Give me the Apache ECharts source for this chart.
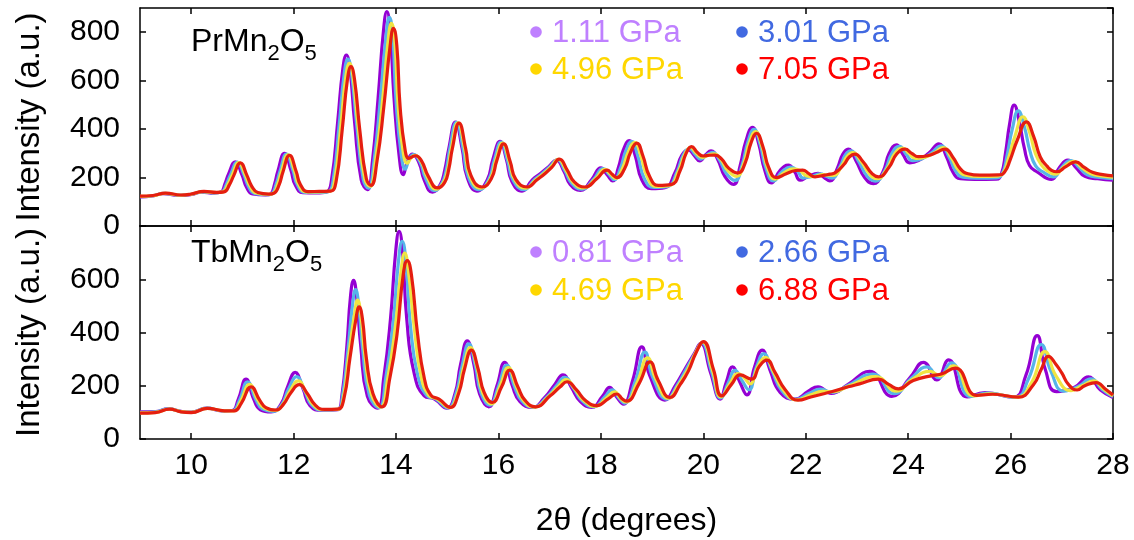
<!DOCTYPE html>
<html><head><meta charset="utf-8">
<script src="https://cdn.jsdelivr.net/npm/echarts@6/dist/echarts.min.js"></script>
<style>html,body{margin:0;padding:0;background:#fff}#c{width:1134px;height:540px}</style>
</head><body><div id="c"></div>
<script>
// ---- tick labels ----
const xTicks = [10,12,14,16,18,20,22,24,26,28];
// ---- legend labels ----
const prLegend = ['1.11 GPa','3.01 GPa','4.96 GPa','7.05 GPa'];
const tbLegend = ['0.81 GPa','2.66 GPa','4.69 GPa','6.88 GPa'];
const legendColors = ['#bf80ff','#4169e1','#ffd700','#ff0000'];
const lineColors = ['#9400d3','#56b4e9','#f0e442','#e51e10'];

// ---- PrMn2O5 (top panel) ----
const prP = [[9.0,120],[9.25,124],[9.45,134],[9.75,126],[10.0,130],[10.2,140],[10.45,136],[10.58,140],[10.66,175],[10.73,215],[10.86,265],[10.99,212],[11.08,160],[11.2,132],[11.45,128],[11.55,132],[11.63,175],[11.69,225],[11.82,300],[11.95,228],[12.03,170],[12.18,138],[12.45,137],[12.64,140],[12.74,190],[12.86,430],[12.96,647],[13.03,706],[13.10,647],[13.19,430],[13.32,190],[13.44,150],[13.54,270],[13.65,530],[13.755,807],[13.82,885],[13.885,807],[13.96,530],[14.06,290],[14.14,212],[14.22,265],[14.32,297],[14.45,260],[14.55,190],[14.71,140],[14.86,170],[14.95,230],[15.03,320],[15.16,429],[15.29,320],[15.39,200],[15.58,144],[15.78,190],[15.89,275],[16.03,349],[16.16,270],[16.26,185],[16.46,144],[16.66,190],[16.82,217],[16.98,245],[17.13,272],[17.28,225],[17.4,172],[17.6,147],[17.82,192],[18.0,240],[18.12,212],[18.23,186],[18.34,240],[18.44,315],[18.55,353],[18.67,290],[18.8,190],[18.99,154],[19.25,158],[19.45,222],[19.58,292],[19.71,314],[19.82,292],[19.93,269],[20.05,295],[20.15,310],[20.28,275],[20.42,205],[20.59,172],[20.72,250],[20.83,350],[20.96,407],[21.08,340],[21.2,230],[21.33,178],[21.5,230],[21.66,251],[21.78,225],[21.89,189],[22.05,205],[22.24,217],[22.36,200],[22.47,186],[22.62,240],[22.72,295],[22.83,317],[22.98,270],[23.15,200],[23.32,175],[23.5,220],[23.63,300],[23.77,335],[23.9,295],[24.03,261],[24.2,270],[24.4,300],[24.6,339],[24.75,285],[24.88,220],[25.02,195],[25.3,192],[25.72,193],[25.82,215],[25.9,300],[25.98,420],[26.07,499],[26.17,430],[26.27,320],[26.37,250],[26.52,223],[26.8,192],[26.95,240],[27.12,272],[27.28,240],[27.45,205],[27.7,195],[28.0,189]];
const prB = [[9.0,121],[9.25,125],[9.47,135],[9.77,127],[10.0,131],[10.22,141],[10.47,137],[10.6,140],[10.69,174],[10.77,213],[10.9,264],[11.03,211],[11.12,162],[11.24,134],[11.47,129],[11.57,133],[11.66,174],[11.73,224],[11.86,297],[11.99,227],[12.07,171],[12.22,139],[12.47,139],[12.67,141],[12.77,188],[12.89,420],[12.99,632],[13.06,689],[13.13,632],[13.23,420],[13.36,192],[13.46,156],[13.57,270],[13.69,516],[13.805,785],[13.87,861],[13.935,785],[14.0,516],[14.1,297],[14.18,235],[14.25,272],[14.34,295],[14.47,263],[14.58,195],[14.75,146],[14.89,174],[14.98,232],[15.05,320],[15.18,428],[15.31,319],[15.41,204],[15.62,150],[15.81,192],[15.92,274],[16.05,346],[16.18,268],[16.29,187],[16.5,150],[16.7,191],[16.85,216],[17.0,244],[17.15,273],[17.3,227],[17.43,176],[17.63,152],[17.86,193],[18.04,237],[18.16,213],[18.26,191],[18.38,238],[18.49,312],[18.6,349],[18.72,290],[18.85,195],[19.04,159],[19.3,163],[19.49,225],[19.61,294],[19.73,319],[19.84,296],[19.95,276],[20.07,294],[20.18,304],[20.31,275],[20.45,217],[20.62,188],[20.76,254],[20.87,347],[20.99,399],[21.11,337],[21.23,234],[21.37,186],[21.54,225],[21.71,243],[21.84,227],[21.95,198],[22.1,204],[22.29,215],[22.4,205],[22.51,198],[22.67,245],[22.77,292],[22.88,310],[23.03,268],[23.2,205],[23.36,185],[23.54,227],[23.68,299],[23.83,329],[23.96,297],[24.09,270],[24.26,277],[24.45,301],[24.64,331],[24.8,284],[24.93,226],[25.07,202],[25.34,198],[25.73,199],[25.84,217],[25.93,290],[26.03,397],[26.15,475],[26.27,409],[26.38,308],[26.49,248],[26.62,225],[26.84,203],[27.0,242],[27.17,270],[27.34,241],[27.5,211],[27.74,201],[28.0,195]];
const prY = [[9.0,122],[9.25,125],[9.49,135],[9.79,127],[10.0,131],[10.24,142],[10.49,138],[10.62,141],[10.72,173],[10.8,210],[10.93,262],[11.06,209],[11.15,164],[11.27,136],[11.5,131],[11.6,135],[11.69,173],[11.76,223],[11.89,294],[12.02,226],[12.1,171],[12.25,141],[12.49,141],[12.7,143],[12.8,187],[12.92,409],[13.02,617],[13.09,672],[13.16,617],[13.26,409],[13.39,194],[13.49,163],[13.6,270],[13.73,502],[13.845,764],[13.91,837],[13.975,764],[14.04,502],[14.14,304],[14.22,259],[14.28,278],[14.36,292],[14.49,266],[14.61,201],[14.78,152],[14.92,177],[15.01,234],[15.08,320],[15.21,426],[15.34,319],[15.44,207],[15.65,156],[15.84,194],[15.95,273],[16.08,342],[16.21,267],[16.32,190],[16.53,156],[16.73,191],[16.88,216],[17.02,243],[17.17,275],[17.32,230],[17.46,179],[17.66,157],[17.89,194],[18.08,234],[18.19,213],[18.29,196],[18.42,237],[18.54,308],[18.66,345],[18.78,290],[18.91,201],[19.08,164],[19.34,168],[19.52,228],[19.64,296],[19.75,324],[19.87,299],[19.98,283],[20.1,293],[20.21,298],[20.34,276],[20.48,228],[20.65,205],[20.79,258],[20.9,344],[21.02,390],[21.14,333],[21.26,237],[21.4,193],[21.58,220],[21.76,236],[21.89,229],[22.01,208],[22.14,204],[22.33,212],[22.44,210],[22.54,209],[22.71,251],[22.81,288],[22.92,303],[23.08,267],[23.26,211],[23.39,195],[23.58,234],[23.74,299],[23.89,322],[24.02,299],[24.15,279],[24.33,284],[24.51,302],[24.68,324],[24.84,283],[24.98,231],[25.13,210],[25.37,205],[25.75,206],[25.86,220],[25.96,280],[26.09,374],[26.24,451],[26.37,388],[26.49,296],[26.62,247],[26.72,228],[26.87,214],[27.04,244],[27.23,267],[27.39,241],[27.56,217],[27.77,207],[28.0,202]];
const prR = [[9.0,123],[9.25,126],[9.5,136],[9.8,128],[10.0,132],[10.25,143],[10.5,139],[10.64,141],[10.75,172],[10.83,208],[10.96,261],[11.09,208],[11.18,165],[11.3,138],[11.52,132],[11.62,136],[11.72,172],[11.79,222],[11.92,292],[12.05,225],[12.13,172],[12.28,142],[12.5,143],[12.72,144],[12.83,185],[12.95,400],[13.05,604],[13.12,658],[13.19,604],[13.29,400],[13.42,195],[13.51,168],[13.63,270],[13.76,490],[13.885,745],[13.95,816],[14.015,745],[14.08,490],[14.18,310],[14.25,279],[14.3,284],[14.38,290],[14.5,268],[14.63,205],[14.81,157],[14.95,180],[15.03,235],[15.1,320],[15.23,425],[15.36,318],[15.46,210],[15.68,161],[15.86,195],[15.97,272],[16.1,339],[16.23,265],[16.34,192],[16.56,161],[16.76,192],[16.9,215],[17.04,242],[17.19,276],[17.34,232],[17.48,182],[17.69,161],[17.92,195],[18.12,231],[18.22,214],[18.31,200],[18.46,235],[18.58,305],[18.7,342],[18.82,290],[18.95,205],[19.12,168],[19.38,172],[19.55,230],[19.66,298],[19.77,328],[19.89,302],[20.0,289],[20.12,292],[20.23,293],[20.36,276],[20.5,238],[20.68,219],[20.82,262],[20.93,342],[21.04,383],[21.16,330],[21.28,240],[21.43,200],[21.62,216],[21.8,229],[21.94,231],[22.06,216],[22.18,203],[22.37,210],[22.48,214],[22.57,219],[22.75,255],[22.85,285],[22.96,297],[23.12,265],[23.3,215],[23.42,203],[23.62,240],[23.78,298],[23.94,317],[24.07,300],[24.2,286],[24.38,290],[24.55,303],[24.72,317],[24.88,282],[25.02,236],[25.17,216],[25.4,210],[25.76,211],[25.88,222],[25.99,272],[26.13,354],[26.31,430],[26.45,370],[26.58,285],[26.72,245],[26.8,230],[26.9,224],[27.08,245],[27.27,265],[27.44,242],[27.6,222],[27.8,212],[28.0,207]];

// ---- TbMn2O5 (bottom panel) ----
const tbP = [[9.0,102],[9.3,103],[9.55,113],[9.8,104],[10.0,101],[10.3,116],[10.6,106],[10.8,107],[10.92,150],[11.07,225],[11.22,150],[11.35,110],[11.56,102],[11.75,130],[11.88,195],[12.03,250],[12.18,190],[12.32,125],[12.55,108],[12.86,110],[12.94,160],[13.04,350],[13.11,535],[13.17,596],[13.23,535],[13.31,350],[13.44,160],[13.64,116],[13.76,230],[13.89,448],[13.995,709],[14.06,780],[14.125,709],[14.21,448],[14.35,250],[14.55,162],[14.75,150],[14.99,116],[15.15,170],[15.26,280],[15.39,369],[15.52,280],[15.63,170],[15.81,121],[15.97,200],[16.12,288],[16.27,200],[16.42,140],[16.66,119],[16.9,155],[17.1,205],[17.26,241],[17.42,195],[17.6,140],[17.82,119],[18.03,160],[18.17,194],[18.3,160],[18.44,131],[18.62,220],[18.8,346],[18.95,240],[19.25,146],[19.45,200],[19.64,262],[19.82,320],[19.95,359],[20.14,250],[20.33,150],[20.45,215],[20.57,271],[20.71,215],[20.85,166],[21.0,270],[21.15,334],[21.3,260],[21.5,175],[21.79,150],[22.05,180],[22.24,196],[22.5,171],[22.82,204],[23.25,254],[23.68,160],[24.04,232],[24.3,288],[24.56,222],[24.79,297],[25.15,158],[25.5,174],[26.05,157],[26.3,240],[26.52,388],[26.68,260],[26.9,178],[27.25,195],[27.52,233],[27.75,185],[28.0,156]];
const tbB = [[9.0,100],[9.3,102],[9.56,113],[9.8,103],[10.0,100],[10.31,116],[10.62,106],[10.81,107],[10.94,145],[11.1,215],[11.26,148],[11.39,113],[11.6,104],[11.77,130],[11.9,188],[12.06,234],[12.21,183],[12.36,126],[12.57,109],[12.86,111],[12.95,157],[13.06,334],[13.15,504],[13.21,561],[13.27,504],[13.35,334],[13.48,164],[13.67,118],[13.8,230],[13.94,429],[14.05,673],[14.12,742],[14.19,673],[14.28,429],[14.42,243],[14.6,163],[14.78,150],[15.01,117],[15.17,170],[15.29,275],[15.42,357],[15.55,275],[15.66,172],[15.83,127],[16.0,198],[16.16,278],[16.31,198],[16.46,142],[16.68,120],[16.94,157],[17.14,202],[17.29,232],[17.46,192],[17.64,142],[17.86,121],[18.07,157],[18.22,185],[18.34,157],[18.46,135],[18.67,217],[18.86,326],[19.01,233],[19.29,150],[19.49,202],[19.66,260],[19.84,322],[19.97,361],[20.16,254],[20.34,154],[20.49,212],[20.62,258],[20.76,218],[20.89,185],[21.04,272],[21.18,321],[21.34,257],[21.54,179],[21.81,149],[22.07,172],[22.29,187],[22.52,175],[22.82,201],[23.31,244],[23.73,170],[24.06,228],[24.37,271],[24.59,230],[24.84,286],[25.22,160],[25.55,172],[26.09,157],[26.35,226],[26.6,355],[26.79,253],[27.04,180],[27.32,197],[27.57,226],[27.79,186],[28.0,159]];
const tbY = [[9.0,98],[9.3,100],[9.57,112],[9.8,103],[10.0,100],[10.31,115],[10.64,106],[10.83,106],[10.96,140],[11.14,205],[11.3,147],[11.43,116],[11.63,107],[11.79,130],[11.93,181],[12.09,218],[12.24,176],[12.39,127],[12.59,110],[12.86,111],[12.97,153],[13.08,318],[13.19,470],[13.25,522],[13.31,470],[13.39,318],[13.52,167],[13.7,120],[13.84,230],[13.98,411],[14.1,634],[14.17,698],[14.24,634],[14.36,411],[14.49,236],[14.64,164],[14.81,150],[15.04,118],[15.2,170],[15.32,270],[15.45,343],[15.58,270],[15.69,174],[15.86,132],[16.03,197],[16.19,268],[16.35,197],[16.49,144],[16.7,120],[16.98,160],[17.17,198],[17.32,223],[17.49,188],[17.67,144],[17.89,123],[18.11,154],[18.27,177],[18.38,153],[18.48,139],[18.71,213],[18.91,305],[19.07,226],[19.32,153],[19.52,204],[19.69,258],[19.85,324],[19.99,364],[20.18,257],[20.35,158],[20.52,208],[20.68,246],[20.8,230],[20.91,207],[21.07,274],[21.21,307],[21.37,253],[21.57,182],[21.83,147],[22.09,165],[22.33,179],[22.55,178],[22.83,198],[23.37,234],[23.77,180],[24.08,224],[24.43,254],[24.62,237],[24.88,275],[25.28,162],[25.6,170],[26.12,157],[26.41,212],[26.67,328],[26.89,236],[27.18,182],[27.39,199],[27.62,218],[27.82,187],[28.0,162]];
const tbR = [[9.0,97],[9.3,99],[9.58,112],[9.8,102],[10.0,99],[10.32,115],[10.65,106],[10.84,106],[10.98,135],[11.17,196],[11.34,145],[11.46,118],[11.66,109],[11.8,130],[11.95,175],[12.11,204],[12.27,170],[12.42,128],[12.6,111],[12.86,112],[12.98,150],[13.1,304],[13.215,449],[13.28,496],[13.345,449],[13.42,304],[13.55,170],[13.73,121],[13.88,230],[14.02,395],[14.14,617],[14.22,670],[14.30,617],[14.42,395],[14.55,230],[14.68,165],[14.84,150],[15.06,119],[15.22,170],[15.34,265],[15.47,334],[15.6,265],[15.72,175],[15.88,137],[16.06,195],[16.22,259],[16.38,195],[16.52,145],[16.72,121],[17.01,162],[17.2,195],[17.34,215],[17.52,185],[17.7,145],[17.92,125],[18.15,152],[18.31,169],[18.42,150],[18.5,142],[18.75,210],[18.96,290],[19.12,220],[19.35,156],[19.55,205],[19.71,256],[19.86,325],[20.0,366],[20.2,260],[20.36,162],[20.55,205],[20.72,241],[20.94,225],[21.1,275],[21.24,296],[21.4,250],[21.6,185],[21.85,146],[22.1,158],[22.37,171],[22.57,181],[22.83,196],[23.05,207],[23.42,225],[23.62,205],[23.81,188],[24.1,220],[24.49,239],[24.65,244],[24.92,266],[25.34,164],[25.65,168],[26.15,157],[26.45,205],[26.6,262],[26.74,310],[26.88,282],[27.0,248],[27.13,205],[27.3,184],[27.45,200],[27.67,212],[27.85,188],[28.0,165]];

const FONT = '"Liberation Sans", Arial, Helvetica, sans-serif';
const chart = echarts.init(document.getElementById('c'), null, {renderer:'canvas'});

const axisLineStyle = {color:'#000', width:1.5};
function xAx(grid, pos, labels, name){
  return {type:'value', gridIndex:grid, position:pos, min:9, max:28,
    axisLine:{show:true, onZero:false, lineStyle:axisLineStyle},
    axisTick:{show:true, inside:true, length:6, customValues:xTicks, lineStyle:axisLineStyle},
    axisLabel:{show:labels, customValues:xTicks, margin:12, color:'#000', fontSize:30, fontFamily:FONT},
    splitLine:{show:false},
    name:name||'', nameLocation:'middle', nameGap:66,
    nameTextStyle:{color:'#000', fontSize:32, fontFamily:FONT}};
}
function yAx(grid, pos, max, labels){
  return {type:'value', gridIndex:grid, position:pos, min:0, max:max, interval:200,
    axisLine:{show:true, onZero:false, lineStyle:axisLineStyle},
    axisTick:{show:true, inside:true, length:6, lineStyle:axisLineStyle},
    axisLabel:{show:labels, margin:20, color:'#000', fontSize:30, fontFamily:FONT, showMaxLabel:false},
    splitLine:{show:false},
    name: labels ? 'Intensity (a.u.)' : '', nameLocation:'middle', nameRotate:90, nameGap:94,
    nameTextStyle:{color:'#000', fontSize:33, fontFamily:FONT}};
}
function ser(data, xi, yi, ci){
  return {type:'line', data:data, xAxisIndex:xi, yAxisIndex:yi, showSymbol:false, symbol:'none',
    smooth:0.5, lineStyle:{color:lineColors[ci], width:3.2}, silent:true, z:2+ci};
}
function legendGraphics(labels, y1, y2){
  const pos = [[536,y1],[742,y1],[536,y2],[742,y2]];
  const g = [];
  labels.forEach((t,i)=>{
    g.push({type:'circle', shape:{cx:pos[i][0], cy:pos[i][1], r:5.8}, style:{fill:legendColors[i]}});
    g.push({type:'text', style:{text:t, x:pos[i][0]+16, y:pos[i][1]+1, fill:legendColors[i],
      font:'31px '+FONT, align:'left', verticalAlign:'middle'}});
  });
  return g;
}
const subRich = {s:{fontSize:22, fontFamily:FONT, height:16, verticalAlign:'bottom', fill:'#000'}};
const option = {
  animation:false,
  backgroundColor:'#fff',
  grid:[{left:140, top:8, width:973, height:218}, {left:140, top:226, width:973, height:213}],
  xAxis:[xAx(0,'bottom',false), xAx(0,'top',false), xAx(1,'bottom',true,'2θ (degrees)'), xAx(1,'top',false)],
  yAxis:[yAx(0,'left',900,true), yAx(0,'right',900,false), yAx(1,'left',800,true), yAx(1,'right',800,false)],
  series:[
    ser(prP,0,0,0), ser(prB,0,0,1), ser(prY,0,0,2), ser(prR,0,0,3),
    ser(tbP,2,2,0), ser(tbB,2,2,1), ser(tbY,2,2,2), ser(tbR,2,2,3)
  ],
  graphic:[
    {type:'text', style:{text:'PrMn{s|2}O{s|5}', x:191, y:22, fill:'#000', font:'32px '+FONT, lineHeight:40, verticalAlign:'top', rich:subRich}},
    {type:'text', style:{text:'TbMn{s|2}O{s|5}', x:191, y:233, fill:'#000', font:'32px '+FONT, lineHeight:40, verticalAlign:'top', rich:subRich}}
  ].concat(legendGraphics(prLegend,32,69)).concat(legendGraphics(tbLegend,252,290))
};
chart.setOption(option);
</script></body></html>
